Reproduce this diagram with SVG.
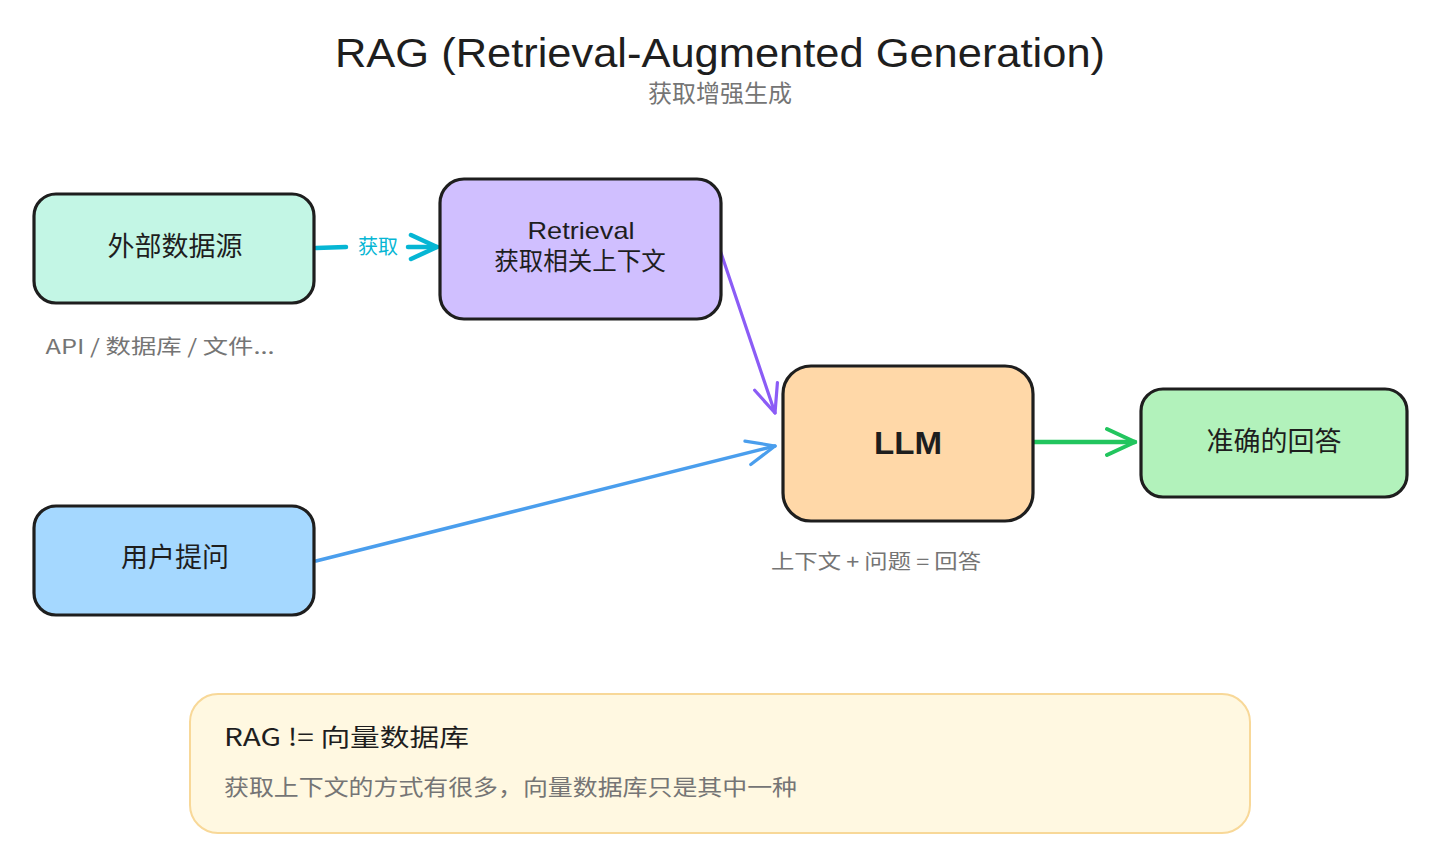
<svg xmlns="http://www.w3.org/2000/svg" width="1440" height="867" viewBox="0 0 1440 867">
<defs>
<style>
.node{stroke:#1e1e1e;stroke-width:3.2;stroke-linejoin:round}
.t{font-family:"Liberation Sans","Noto Sans CJK SC",sans-serif;fill:#1e1e1e;text-anchor:middle}
.cjk{font-family:"Noto Sans CJK SC","Liberation Sans",sans-serif}
.gray{fill:#757575}
.conn{fill:none;stroke-linecap:round}
</style>
<marker id="ahCyan" markerUnits="userSpaceOnUse" viewBox="0 0 32 32" refX="30" refY="16" markerWidth="32" markerHeight="32" orient="auto"><path d="M4,4 L30,16 L4,28" fill="none" stroke="#06b6d4" stroke-width="4.5" stroke-linecap="round" stroke-linejoin="round"/></marker>
<marker id="ahPurple" markerUnits="userSpaceOnUse" viewBox="0 0 32 32" refX="30" refY="16" markerWidth="32" markerHeight="32" orient="auto"><path d="M2,4 L30,16 L2,28" fill="none" stroke="#8b5cf6" stroke-width="3.2" stroke-linecap="round" stroke-linejoin="round"/></marker>
<marker id="ahBlue" markerUnits="userSpaceOnUse" viewBox="0 0 32 32" refX="30" refY="16" markerWidth="32" markerHeight="32" orient="auto"><path d="M2,4 L30,16 L2,28" fill="none" stroke="#4a9eed" stroke-width="3.2" stroke-linecap="round" stroke-linejoin="round"/></marker>
<marker id="ahGreen" markerUnits="userSpaceOnUse" viewBox="0 0 32 32" refX="30" refY="16" markerWidth="32" markerHeight="32" orient="auto"><path d="M2,3 L30,16 L2,29" fill="none" stroke="#22c55e" stroke-width="4" stroke-linecap="round" stroke-linejoin="round"/></marker>
</defs>
<rect width="1440" height="867" fill="#ffffff"/>

<g id="title">
<text class="t" x="720" y="67" font-size="40" textLength="770" lengthAdjust="spacingAndGlyphs">RAG (Retrieval-Augmented Generation)</text>
<text class="t cjk gray" x="720" y="102" font-size="24">获取增强生成</text>
</g>

<g id="connectors">
<path class="conn" d="M316,248 L346,247" stroke="#06b6d4" stroke-width="4.5"/>
<path class="conn" d="M408,247 L437,247" stroke="#06b6d4" stroke-width="4.5" marker-end="url(#ahCyan)"/>
<text class="t cjk" x="378" y="254" font-size="20" style="fill:#06b6d4">获取</text>
<path class="conn" d="M719,247 L775,413" stroke="#8b5cf6" stroke-width="3.2" marker-end="url(#ahPurple)"/>
<path class="conn" d="M316,561 L775,446" stroke="#4a9eed" stroke-width="3.5" marker-end="url(#ahBlue)"/>
<path class="conn" d="M1032,442 L1135,442" stroke="#22c55e" stroke-width="4.5" marker-end="url(#ahGreen)"/>
</g>

<g id="node-source">
<rect class="node" x="34" y="194" width="280" height="109" rx="22" fill="#c3f6e5"/>
<text class="t cjk" x="175" y="256" font-size="27">外部数据源</text>
<text class="t cjk gray" x="160" y="354" font-size="20" textLength="229" lengthAdjust="spacingAndGlyphs">API / 数据库 / 文件...</text>
</g>

<g id="node-retrieval">
<rect class="node" x="440" y="179" width="281" height="140" rx="24" fill="#d0bfff"/>
<text class="t" x="581" y="239" font-size="24" textLength="107" lengthAdjust="spacingAndGlyphs">Retrieval</text>
<text class="t cjk" x="580" y="270" font-size="24.5">获取相关上下文</text>
</g>

<g id="node-llm">
<rect class="node" x="783" y="366" width="250" height="155" rx="28" fill="#ffd8a8"/>
<text class="t" x="908" y="454" font-size="32" font-weight="bold" textLength="68" lengthAdjust="spacingAndGlyphs">LLM</text>
<text class="t cjk gray" x="876" y="569" font-size="20" textLength="210" lengthAdjust="spacingAndGlyphs">上下文 + 问题 = 回答</text>
</g>

<g id="node-answer">
<rect class="node" x="1141" y="389" width="266" height="108" rx="22" fill="#b2f2bb"/>
<text class="t cjk" x="1274" y="451" font-size="27">准确的回答</text>
</g>

<g id="node-question">
<rect class="node" x="34" y="506" width="280" height="109" rx="22" fill="#a5d8ff"/>
<text class="t cjk" x="175" y="567" font-size="27">用户提问</text>
</g>

<g id="note">
<rect x="190" y="694" width="1060" height="139" rx="28" fill="#fff8e1" stroke="#f8d898" stroke-width="2"/>
<text class="cjk" x="224" y="746" font-size="24" fill="#1e1e1e" textLength="245" lengthAdjust="spacingAndGlyphs">RAG != 向量数据库</text>
<text class="cjk gray" x="224" y="795" font-size="22" textLength="573" lengthAdjust="spacingAndGlyphs">获取上下文的方式有很多，向量数据库只是其中一种</text>
</g>
</svg>
